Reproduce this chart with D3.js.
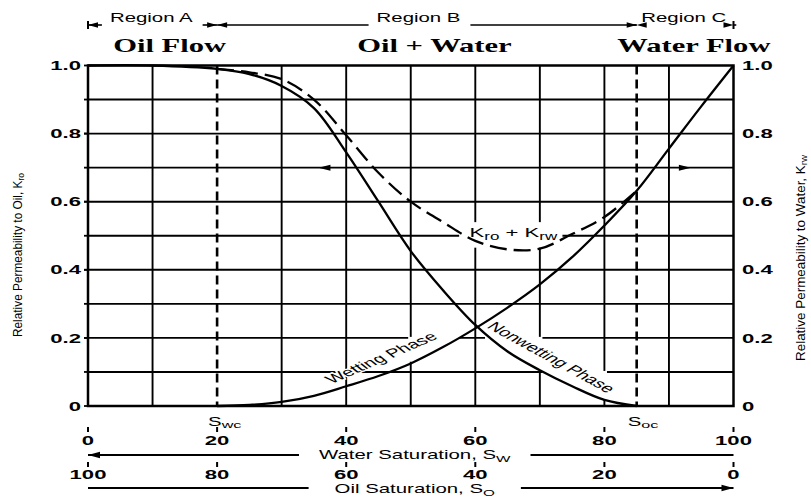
<!DOCTYPE html>
<html>
<head>
<meta charset="utf-8">
<script src="https://cdn.jsdelivr.net/npm/d3@7"></script>
<style>
  body { margin: 0; background: #fff; }
  svg { display: block; }
  text { fill: #000; }
</style>
</head>
<body>
<div id="chart"></div>
<script>
// relative permeability vs water saturation (%)
const kroSw  = [0, 10, 20, 25, 30, 35, 40, 45, 50, 55, 60, 65, 70, 75, 80, 85];
const kroVal = [1.0, 1.0, 0.99, 0.975, 0.94, 0.875, 0.745, 0.6, 0.455, 0.34, 0.238, 0.16, 0.105, 0.058, 0.018, 0];

const krwSw  = [20, 25, 30, 35, 40, 45, 50, 55, 60, 65, 70, 75, 80, 85, 90, 95, 100];
const krwVal = [0, 0.003, 0.012, 0.03, 0.058, 0.088, 0.125, 0.173, 0.228, 0.289, 0.357, 0.437, 0.53, 0.632, 0.756, 0.88, 1.0];

const sumSw  = [20, 25, 30, 35, 40, 45, 50, 55, 60, 65, 70, 75, 80, 85];
const sumVal = [0.99, 0.98, 0.96, 0.9, 0.795, 0.685, 0.6, 0.54, 0.485, 0.46, 0.462, 0.505, 0.555, 0.632];

const swc = 20, soc = 85;
const swTicks = [0, 20, 40, 60, 80, 100];
const kTicks = [0, 0.2, 0.4, 0.6, 0.8, 1.0];
const kTickLabels = ["0", "0.2", "0.4", "0.6", "0.8", "1.0"];
const gridSw = [10, 30, 40, 50, 60, 70, 80, 90];
const gridK = [0.1, 0.2, 0.3, 0.4, 0.5, 0.6, 0.7, 0.8, 0.9];

// [label, from Sw, to Sw, label centre Sw]
const regions = [["Region A", 0, 20, 9.8], ["Region B", 20, 85, 51.2], ["Region C", 85, 100, 92.3]];
const flowLabels = [["Oil Flow", 3.9], ["Oil + Water", 41.7], ["Water Flow", 82]];
// white patches in the printed grid behind the labels: [Sw0, Sw1, K0, K1]
const gridGaps = [[49.6, 57.5, 0.13, 0.203], [61.5, 70.4, 0.103, 0.203], [70.4, 80.4, 0.02, 0.103], [57.5, 73.5, 0.465, 0.54]];

const W = 811, H = 498;
const SX = 1.7; // the printed figure is stretched sideways
const sans = "'Liberation Sans', Arial, Helvetica, sans-serif";
const serif = "'Liberation Serif', 'Times New Roman', serif";

const x = d3.scaleLinear().domain([0, 100]).range([88, 733.5]);
const y = d3.scaleLinear().domain([0, 1]).range([406, 65.5]);

const svg = d3.select("#chart").append("svg")
  .attr("width", W).attr("height", H)
  .style("background", "#fff");

function wide(g, px, py) {
  return g.append("text")
    .attr("transform", `translate(${px},${py}) scale(${SX},1)`)
    .attr("font-family", sans);
}

function head(g, tx, ty, dir, len = 11, half = 3.2) {
  g.append("path")
    .attr("d", `M${tx},${ty}L${tx - dir * len},${ty - half}L${tx - dir * len},${ty + half}Z`)
    .attr("fill", "#000");
}

// grid
const grid = svg.append("g").attr("stroke", "#000").attr("stroke-width", 1.9);
grid.selectAll(".v").data(gridSw).join("line")
  .attr("x1", d => x(d)).attr("x2", d => x(d))
  .attr("y1", y(1)).attr("y2", y(0));
grid.selectAll(".h").data(gridK).join("line")
  .attr("x1", x(0)).attr("x2", x(100))
  .attr("y1", d => y(d)).attr("y2", d => y(d));

svg.append("g").selectAll("rect").data(gridGaps).join("rect")
  .attr("x", d => x(d[0])).attr("width", d => x(d[1]) - x(d[0]))
  .attr("y", d => y(d[3])).attr("height", d => y(d[2]) - y(d[3]))
  .attr("fill", "#fff");

// frame + small ticks on the left
svg.append("rect")
  .attr("x", x(0)).attr("y", y(1))
  .attr("width", x(100) - x(0)).attr("height", y(0) - y(1))
  .attr("fill", "none").attr("stroke", "#000").attr("stroke-width", 2.5);
svg.append("g").selectAll("line").data(gridK.concat(kTicks)).join("line")
  .attr("x1", x(0) - 4).attr("x2", x(0))
  .attr("y1", d => y(d)).attr("y2", d => y(d))
  .attr("stroke", "#000").attr("stroke-width", 1.8);

// Swc / Soc dashed verticals
svg.append("g").selectAll("line").data([swc, soc]).join("line")
  .attr("x1", d => x(d)).attr("x2", d => x(d))
  .attr("y1", y(1)).attr("y2", y(0))
  .attr("stroke", "#000").attr("stroke-width", 2.6)
  .attr("stroke-dasharray", "9,5");

// curves
const line = d3.line().x(d => x(d[0])).y(d => y(d[1])).curve(d3.curveCatmullRom.alpha(0.5));
const curves = svg.append("g").attr("fill", "none").attr("stroke", "#000").attr("stroke-width", 2.3);
curves.append("path").attr("d", line(d3.zip(kroSw, kroVal)));
curves.append("path").attr("d", line(d3.zip(krwSw, krwVal)));
curves.append("path").attr("d", line(d3.zip(sumSw, sumVal)))
  .attr("stroke-dasharray", "17,7");

// arrows on the 0.7 line pointing to each axis
head(svg, x(35.7), y(0.7), -1, 12, 3);
head(svg, x(93.4), y(0.7), 1, 12, 3);

// curve labels
function curveLabel(str, sw, k, ang) {
  svg.append("text")
    .attr("transform", `translate(${x(sw)},${y(k)}) scale(${SX},1) rotate(${ang})`)
    .attr("font-family", sans).attr("font-size", 12)
    .attr("text-anchor", "middle").attr("dy", "0.35em")
    .attr("stroke", "#fff").attr("stroke-width", 2.5).attr("paint-order", "stroke")
    .text(str);
}
curveLabel("Wetting Phase", 45.4, 0.142, -36);
curveLabel("Nonwetting Phase", 71.8, 0.143, 42.8);

const sumLab = wide(svg, x(59.1), y(0.496)).attr("font-size", 13);
sumLab.append("tspan").text("K");
sumLab.append("tspan").attr("font-size", 10).attr("dy", 2.5).text("ro");
sumLab.append("tspan").attr("dy", -2.5).text(" + K");
sumLab.append("tspan").attr("font-size", 10).attr("dy", 2.5).text("rw");

// y tick labels both sides
kTicks.forEach((k, i) => {
  wide(svg, 81, y(k)).attr("font-size", 13).attr("font-weight", "bold")
    .attr("text-anchor", "end").attr("dy", "0.36em").text(kTickLabels[i]);
  wide(svg, 742, y(k)).attr("font-size", 13).attr("font-weight", "bold")
    .attr("dy", "0.36em").text(kTickLabels[i]);
});

// axis titles
const leftTitle = svg.append("text")
  .attr("transform", `translate(22,255) rotate(-90)`)
  .attr("font-family", sans).attr("font-size", 12.5)
  .attr("text-anchor", "middle")
  .attr("textLength", 164).attr("lengthAdjust", "spacingAndGlyphs");
leftTitle.append("tspan").text("Relative Permeability to Oil, K");
leftTitle.append("tspan").attr("font-size", 9).attr("dy", 2).text("ro");

const rightTitle = svg.append("text")
  .attr("transform", `translate(805,258) rotate(-90)`)
  .attr("font-family", sans).attr("font-size", 12.5)
  .attr("text-anchor", "middle")
  .attr("textLength", 206).attr("lengthAdjust", "spacingAndGlyphs");
rightTitle.append("tspan").text("Relative Permeability to Water, K");
rightTitle.append("tspan").attr("font-size", 9).attr("dy", 2).text("rw");

// Swc / Soc labels under the axis
[["S", "wc", swc], ["S", "oc", soc]].forEach(([a, b, v]) => {
  const t = wide(svg, x(v) - 9, 426).attr("font-size", 12);
  t.append("tspan").text(a);
  t.append("tspan").attr("font-size", 9.5).attr("dy", 2).text(b);
});

// bottom scales
const bottomG = svg.append("g");
swTicks.forEach(v => {
  bottomG.append("line").attr("x1", x(v)).attr("x2", x(v)).attr("y1", 427).attr("y2", 432)
    .attr("stroke", "#000").attr("stroke-width", 2);
  wide(bottomG, x(v), 445).attr("font-size", 13).attr("font-weight", "bold")
    .attr("text-anchor", "middle").text(v);
  bottomG.append("line").attr("x1", x(v)).attr("x2", x(v)).attr("y1", 462).attr("y2", 467)
    .attr("stroke", "#000").attr("stroke-width", 2);
  wide(bottomG, x(v), 479).attr("font-size", 13).attr("font-weight", "bold")
    .attr("text-anchor", "middle").text(100 - v);
});

function arrowLabel(main, sub, ly, ty, dir, pad) {
  const cx = x(50) + 4;
  const t = wide(bottomG, cx, ty).attr("font-size", 12).attr("text-anchor", "middle");
  t.append("tspan").text(main);
  t.append("tspan").attr("font-size", 9).attr("dy", 3).text(sub);
  const w = t.node().getComputedTextLength() * SX;
  bottomG.append("line").attr("x1", x(0)).attr("x2", cx - w / 2 - pad).attr("y1", ly).attr("y2", ly)
    .attr("stroke", "#000").attr("stroke-width", 1.8);
  bottomG.append("line").attr("x1", cx + w / 2 + pad).attr("x2", x(100)).attr("y1", ly).attr("y2", ly)
    .attr("stroke", "#000").attr("stroke-width", 1.8);
  if (dir < 0) head(bottomG, x(0), ly, -1, 12, 3.2);
  else head(bottomG, x(100), ly, 1, 12, 3.2);
}
arrowLabel("Water Saturation, S", "W", 455, 459, -1, 20);
arrowLabel("Oil Saturation, S", "O", 488, 493, 1, 26);

// region markers across the top
const topG = svg.append("g");
regions.forEach(([name, a, b, c]) => {
  const t = wide(topG, x(c), 22).attr("font-size", 12).attr("text-anchor", "middle").text(name);
  const w = t.node().getComputedTextLength() * SX;
  topG.append("line").attr("x1", x(a)).attr("x2", x(c) - w / 2 - 8).attr("y1", 25).attr("y2", 25)
    .attr("stroke", "#000").attr("stroke-width", 1.6);
  topG.append("line").attr("x1", x(c) + w / 2 + 10).attr("x2", x(b)).attr("y1", 25).attr("y2", 25)
    .attr("stroke", "#000").attr("stroke-width", 1.6);
  head(topG, x(a), 25, -1, 10, 2.8);
  head(topG, x(b), 25, 1, 10, 2.8);
});
topG.selectAll(".bar").data([0, 100]).join("line")
  .attr("x1", d => x(d)).attr("x2", d => x(d)).attr("y1", 21).attr("y2", 29)
  .attr("stroke", "#000").attr("stroke-width", 2);

flowLabels.forEach(([name, s]) => {
  topG.append("text")
    .attr("transform", `translate(${x(s)},52) scale(${SX},1)`)
    .attr("font-family", serif).attr("font-weight", "bold").attr("font-size", 18)
    .text(name);
});
</script>
</body>
</html>
